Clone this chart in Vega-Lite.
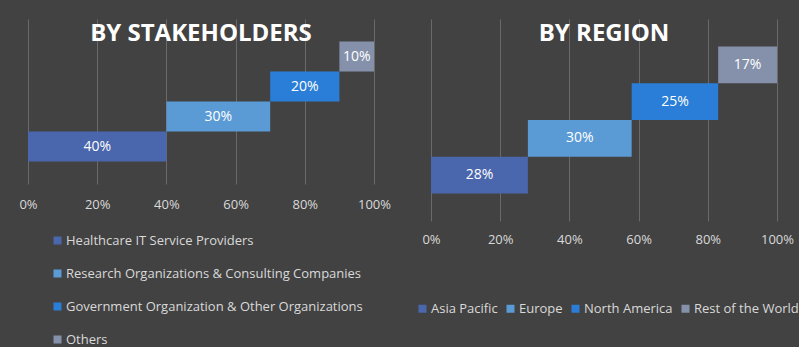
{
  "$schema": "https://vega.github.io/schema/vega-lite/v6.json",
  "background": "#424242",
  "padding": {"left": 18, "top": 19, "right": 0, "bottom": 0},
  "spacing": 57,
  "bounds": "flush",
  "config": {
    "view": {"stroke": null},
    "font": "Open Sans",
    "axis": {
      "grid": true, "gridColor": "#6a6a6a", "gridWidth": 1, "domain": false, "ticks": false,
      "labelColor": "#d9d9d9", "labelFont": "Open Sans", "labelFontSize": 13, "title": null, "labelFlush": false
    },
    "legend": {
      "labelColor": "#d9d9d9", "labelFont": "Open Sans", "labelFontSize": 13, "symbolType": "square",
      "symbolSize": 64, "symbolStrokeWidth": 0, "padding": 0, "labelOffset": 2, "title": null, "labelLimit": 400
    },
    "title": {
      "font": "Open Sans", "fontSize": 24, "fontWeight": "bold", "color": "#ffffff",
      "anchor": "middle", "frame": "group", "baseline": "alphabetic", "offset": -27
    }
  },
  "resolve": {"scale": {"color": "independent"}, "legend": {"color": "independent"}},
  "hconcat": [
    {
      "width": 346,
      "height": 165,
      "title": {"text": "BY STAKEHOLDERS"},
      "data": {"values": [
        {"category": "Healthcare IT Service Providers", "value": 0.40},
        {"category": "Research Organizations & Consulting Companies", "value": 0.30},
        {"category": "Government Organization  & Other Organizations", "value": 0.20},
        {"category": "Others", "value": 0.10}
      ]},
      "transform": [
        {"stack": "value", "groupby": [], "as": ["start", "end"]},
        {"calculate": "(datum.start + datum.end) / 2", "as": "mid"}
      ],
      "encoding": {
        "y": {"field": "category", "type": "nominal", "axis": null,
          "sort": ["Others", "Government Organization  & Other Organizations", "Research Organizations & Consulting Companies", "Healthcare IT Service Providers"],
          "scale": {"paddingInner": 0, "paddingOuter": 0.75}}
      },
      "layer": [
        {
          "mark": {"type": "bar"},
          "encoding": {
            "x": {"field": "start", "type": "quantitative", "scale": {"domain": [0, 1]},
              "axis": {"values": [0, 0.2, 0.4, 0.6, 0.8, 1], "format": ".0%", "labelPadding": 14}},
            "x2": {"field": "end"},
            "color": {"field": "category", "type": "nominal",
              "scale": {"domain": ["Healthcare IT Service Providers", "Research Organizations & Consulting Companies", "Government Organization  & Other Organizations", "Others"],
                "range": ["#4a66ac", "#5b9bd5", "#2a7ed7", "#8591ab"]},
              "legend": {"orient": "none", "direction": "vertical", "legendX": 23, "legendY": 215, "rowPadding": 19}}
          }
        },
        {
          "mark": {"type": "text", "color": "#ffffff", "fontSize": 14, "font": "Open Sans"},
          "encoding": {
            "x": {"field": "mid", "type": "quantitative"},
            "text": {"field": "value", "type": "quantitative", "format": ".0%"}
          }
        }
      ]
    },
    {
      "width": 346,
      "height": 202,
      "title": {"text": "BY REGION"},
      "data": {"values": [
        {"category": "Asia Pacific", "value": 0.28},
        {"category": "Europe", "value": 0.30},
        {"category": "North America", "value": 0.25},
        {"category": "Rest of the World", "value": 0.17}
      ]},
      "transform": [
        {"stack": "value", "groupby": [], "as": ["start", "end"]},
        {"calculate": "(datum.start + datum.end) / 2", "as": "mid"}
      ],
      "encoding": {
        "y": {"field": "category", "type": "nominal", "axis": null,
          "sort": ["Rest of the World", "North America", "Europe", "Asia Pacific"],
          "scale": {"paddingInner": 0, "paddingOuter": 0.75}}
      },
      "layer": [
        {
          "mark": {"type": "bar"},
          "encoding": {
            "x": {"field": "start", "type": "quantitative", "scale": {"domain": [0, 1]},
              "axis": {"values": [0, 0.2, 0.4, 0.6, 0.8, 1], "format": ".0%", "labelPadding": 12}},
            "x2": {"field": "end"},
            "color": {"field": "category", "type": "nominal",
              "scale": {"domain": ["Asia Pacific", "Europe", "North America", "Rest of the World"],
                "range": ["#4a66ac", "#5b9bd5", "#2a7ed7", "#8591ab"]},
              "legend": {"orient": "none", "direction": "horizontal", "legendX": -15, "legendY": 283, "columnPadding": 6}}
          }
        },
        {
          "mark": {"type": "text", "color": "#ffffff", "fontSize": 14, "font": "Open Sans"},
          "encoding": {
            "x": {"field": "mid", "type": "quantitative"},
            "text": {"field": "value", "type": "quantitative", "format": ".0%"}
          }
        }
      ]
    }
  ]
}
